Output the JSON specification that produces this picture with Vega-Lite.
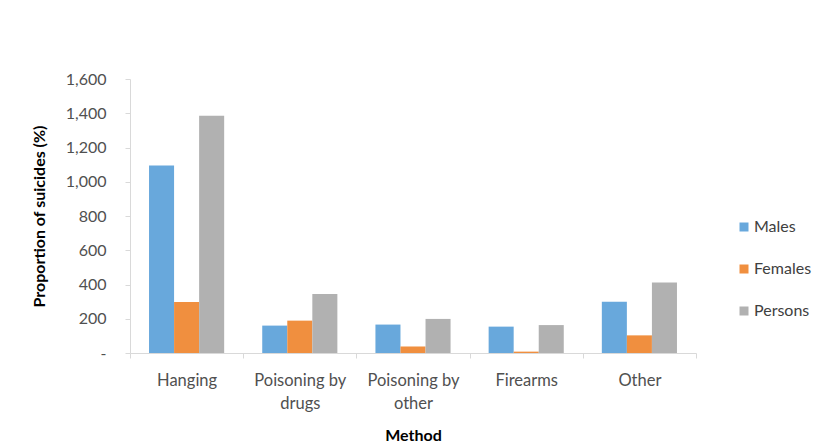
{
  "$schema": "https://vega.github.io/schema/vega-lite/v6.json",
  "autosize": "none",
  "width": 566,
  "height": 274,
  "padding": {"left": 130, "top": 79, "right": 125, "bottom": 93},
  "background": "white",
  "config": {
    "view": {"stroke": null},
    "font": "Lato",
    "axis": {"labelFont": "Lato", "titleFont": "Lato", "labelColor": "#505050", "titleColor": "#000000", "domainColor": "#D9D9D9", "tickColor": "#D9D9D9", "grid": false}
  },
  "data": {
    "values": [
      {"method": "Hanging", "sex": "Males", "value": 1095},
      {"method": "Hanging", "sex": "Females", "value": 298},
      {"method": "Hanging", "sex": "Persons", "value": 1385},
      {"method": "Poisoning by drugs", "sex": "Males", "value": 160},
      {"method": "Poisoning by drugs", "sex": "Females", "value": 189},
      {"method": "Poisoning by drugs", "sex": "Persons", "value": 345},
      {"method": "Poisoning by other", "sex": "Males", "value": 166},
      {"method": "Poisoning by other", "sex": "Females", "value": 38},
      {"method": "Poisoning by other", "sex": "Persons", "value": 199},
      {"method": "Firearms", "sex": "Males", "value": 154},
      {"method": "Firearms", "sex": "Females", "value": 8},
      {"method": "Firearms", "sex": "Persons", "value": 163},
      {"method": "Other", "sex": "Males", "value": 299},
      {"method": "Other", "sex": "Females", "value": 103},
      {"method": "Other", "sex": "Persons", "value": 412}
    ]
  },
  "mark": {"type": "bar"},
  "encoding": {
    "x": {
      "field": "method",
      "type": "nominal",
      "sort": ["Hanging", "Poisoning by drugs", "Poisoning by other", "Firearms", "Other"],
      "scale": {"paddingInner": 0, "paddingOuter": 0},
      "axis": {
        "title": "Method",
        "titleFontSize": 16,
        "titleFontWeight": "bold",
        "titlePadding": 16,
        "labelAngle": 0,
        "labelFontSize": 16.5,
        "labelLineHeight": 23,
        "labelPadding": 14,
        "tickBand": "extent",
        "tickSize": 5,
        "labelExpr": "indexof(datum.label, 'Poisoning by') == 0 ? ['Poisoning by', substring(datum.label, 13)] : datum.label"
      }
    },
    "xOffset": {
      "field": "sex",
      "type": "nominal",
      "sort": ["Males", "Females", "Persons"],
      "scale": {"paddingInner": 0, "paddingOuter": 0.76}
    },
    "y": {
      "field": "value",
      "type": "quantitative",
      "scale": {"domain": [0, 1600]},
      "axis": {
        "title": "Proportion of suicides (%)",
        "titleFontSize": 16,
        "titleFontWeight": "bold",
        "titlePadding": 18,
        "values": [0, 200, 400, 600, 800, 1000, 1200, 1400, 1600],
        "labelFontSize": 16,
        "labelPadding": 19,
        "tickSize": 5,
        "labelExpr": "datum.value == 0 ? '-' : format(datum.value, ',')"
      }
    },
    "color": {
      "field": "sex",
      "type": "nominal",
      "sort": ["Males", "Females", "Persons"],
      "scale": {"domain": ["Males", "Females", "Persons"], "range": ["#68A8DC", "#F08F3F", "#B1B1B1"]},
      "legend": {
        "title": null,
        "orient": "none",
        "legendX": 606,
        "legendY": 140,
        "symbolType": "square",
        "symbolSize": 81,
        "symbolStrokeWidth": 0,
        "labelFontSize": 16,
        "labelColor": "#404040",
        "labelOffset": 2,
        "rowPadding": 26
      }
    }
  }
}
